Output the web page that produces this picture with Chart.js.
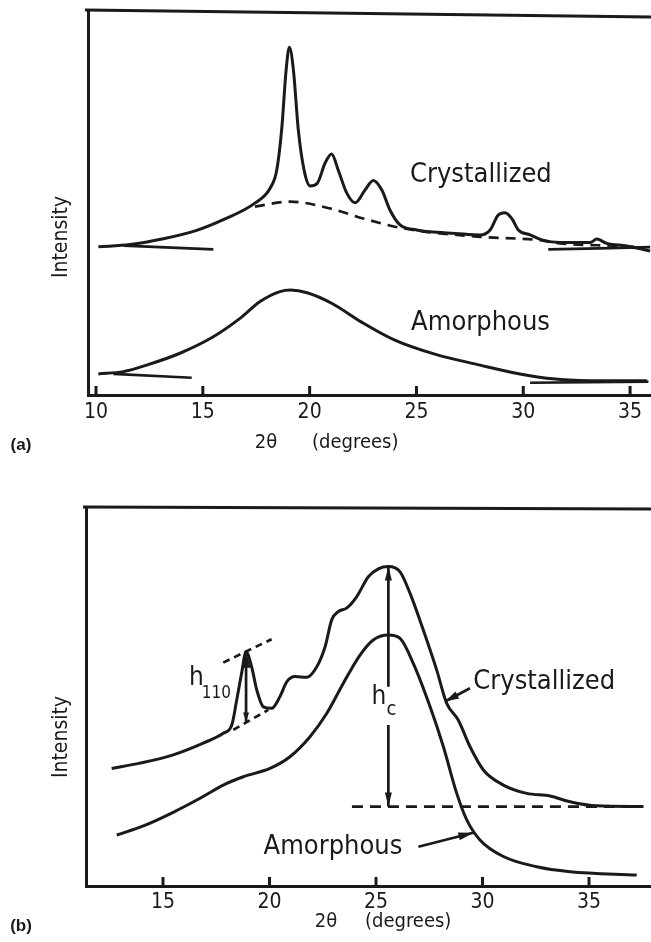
<!DOCTYPE html>
<html>
<head>
<meta charset="utf-8">
<script src="https://cdn.jsdelivr.net/npm/chart.js@4.4.1/dist/chart.umd.min.js"></script>
<style>
  body { margin: 0; background: #fff; }
  .panel { position: absolute; left: 0; width: 651px; height: 471px; }
</style>
</head>
<body>
<div class="panel" style="top:0"><canvas id="chartA" width="651" height="471"></canvas></div>
<div class="panel" style="top:471px"><canvas id="chartB" width="651" height="471"></canvas></div>
<script>
// ---- panel (a) data: 2theta (deg) vs intensity (arbitrary units 0-100)
const ticksA = [10, 15, 20, 25, 30, 35];
const crystA_x = [10.11, 11.59, 13.15, 14.71, 15.96, 17.44, 18.15, 18.46, 18.69, 18.90, 19.05, 19.24, 19.47, 19.74, 20.02, 20.36, 20.72, 21.03, 21.34, 21.74, 22.13, 22.59, 22.98, 23.38, 23.76, 24.23, 25.01, 25.64, 26.81, 27.98, 28.45, 28.83, 29.15, 29.46, 29.77, 30.32, 30.87, 31.72, 33.13, 33.44, 33.91, 34.85, 35.62, 35.94];
const crystA_y = [38.7, 39.3, 40.8, 43.0, 45.8, 50.1, 54.0, 58.7, 69.2, 84.9, 90.8, 84.9, 69.2, 58.7, 54.6, 55.3, 60.5, 62.9, 58.7, 52.7, 50.2, 53.5, 56.0, 53.5, 48.3, 44.4, 43.1, 42.6, 42.2, 41.8, 43.1, 47.0, 47.6, 46.1, 43.1, 41.8, 40.5, 39.8, 39.8, 40.7, 39.6, 38.9, 38.0, 37.6];
const amorA_x = [10.11, 11.28, 12.37, 13.93, 15.49, 16.74, 17.68, 18.61, 19.11, 19.88, 21.05, 22.41, 23.96, 25.90, 27.98, 29.54, 31.10, 32.66, 35.78];
const amorA_y = [5.5, 6.1, 7.8, 10.9, 15.2, 20.0, 24.4, 27.0, 27.4, 26.7, 23.9, 19.1, 14.4, 10.6, 7.8, 5.8, 4.4, 3.8, 3.7];
// amorphous halo under the crystalline peaks (dashed)
const haloA_x = [17.44, 19.08, 20.96, 22.51, 24.39, 27.98, 30.63, 31.72, 34.53, 35.5];
const haloA_y = [49.2, 50.5, 48.7, 46.1, 43.5, 41.3, 40.5, 39.6, 38.9, 38.6];
// hand drawn baseline strokes [x1, y1, x2, y2]
const strokesA = [[11.3, 39.0, 15.49, 38.0], [31.17, 38.0, 35.94, 38.6], [10.81, 5.5, 14.48, 4.5], [30.32, 3.2, 35.86, 3.5]];

// ---- panel (b) data
const ticksB = [15, 20, 25, 30, 35];
const crystB_x = [12.59, 13.92, 15.48, 16.89, 17.83, 18.23, 18.46, 18.69, 18.90, 19.16, 19.40, 19.71, 20.10, 20.49, 20.81, 21.20, 21.75, 22.22, 22.61, 22.92, 23.23, 23.62, 24.09, 24.64, 25.11, 25.58, 26.13, 26.60, 27.22, 27.85, 28.32, 28.86, 29.41, 30.04, 30.98, 32.08, 33.17, 34.11, 35.36, 37.55];
const crystB_y = [31.1, 32.5, 34.7, 37.8, 40.4, 42.6, 49.2, 56.3, 62.0, 58.0, 51.9, 47.4, 47.0, 50.1, 54.0, 55.4, 55.2, 58.0, 63.3, 70.4, 72.6, 73.5, 76.5, 81.8, 83.9, 84.5, 83.1, 77.4, 67.7, 57.1, 48.3, 43.9, 36.9, 30.7, 26.7, 24.5, 23.8, 22.3, 21.2, 21.0];
const amorB_x = [12.83, 14.08, 15.48, 16.74, 17.83, 18.77, 20.02, 20.96, 21.90, 22.69, 23.46, 24.25, 24.87, 25.58, 26.13, 26.75, 27.54, 28.16, 28.79, 29.26, 29.88, 30.98, 32.54, 34.11, 37.24];
const amorB_y = [13.5, 15.9, 19.5, 23.2, 26.7, 28.9, 31.1, 34.2, 39.5, 45.7, 53.6, 61.1, 65.1, 66.4, 65.5, 58.9, 47.4, 36.9, 24.5, 17.5, 12.2, 7.8, 5.1, 3.8, 2.9];
const baseB_x = [23.87, 37.55];
const baseB_y = [21.0, 21.0];
// dashed tangents of the 110 reflection [x1, y1, x2, y2]
const h110LinesB = [[17.83, 59.1, 20.10, 65.3], [18.30, 41.3, 19.94, 46.6]];

const INK = '#1a1a1a';
const FONT = '"DejaVu Sans Condensed", "Liberation Sans Narrow", "DejaVu Sans", sans-serif';

function series(xs, ys, dash, width) {
  return {
    data: xs.map((x, i) => ({ x: x, y: ys[i] })),
    borderColor: INK,
    borderWidth: width || 3,
    borderDash: dash || [],
    pointRadius: 0,
    fill: false,
    cubicInterpolationMode: 'monotone'
  };
}

function segment(s, dash) {
  return series([s[0], s[2]], [s[1], s[3]], dash, 2.7);
}

function arrowHead(ctx, x1, y1, x2, y2, len, half) {
  const a = Math.atan2(y2 - y1, x2 - x1);
  const c = Math.cos(a), s = Math.sin(a);
  ctx.beginPath();
  ctx.moveTo(x2, y2);
  ctx.lineTo(x2 - len * c + half * s, y2 - len * s - half * c);
  ctx.lineTo(x2 - len * c - half * s, y2 - len * s + half * c);
  ctx.closePath();
  ctx.fill();
}

function makeDecor(p) {
  return {
    id: 'decor',
    afterDraw(chart) {
      const ctx = chart.ctx;
      const area = chart.chartArea;
      const xs = chart.scales.x, ys = chart.scales.y;
      const X = v => xs.getPixelForValue(v);
      const Y = v => ys.getPixelForValue(v);
      ctx.save();
      ctx.strokeStyle = INK;
      ctx.fillStyle = INK;
      ctx.lineCap = 'butt';

      // top frame line
      ctx.lineWidth = 3;
      ctx.beginPath();
      ctx.moveTo(area.left - 3, area.top + p.topTilt[0]);
      ctx.lineTo(area.right, area.top + p.topTilt[1]);
      ctx.stroke();

      // inward tick marks
      p.ticks.forEach(v => {
        ctx.beginPath();
        ctx.moveTo(X(v), area.bottom);
        ctx.lineTo(X(v), area.bottom - 9);
        ctx.stroke();
      });

      // axis titles
      ctx.textBaseline = 'middle';
      ctx.font = '20px ' + FONT;
      ctx.textAlign = 'center';
      ctx.fillText('2\u03B8', X(p.title2t), p.titleY);
      ctx.textAlign = 'left';
      ctx.fillText('(degrees)', X(p.titleDeg), p.titleY);

      ctx.save();
      ctx.translate(62, p.intensityY);
      ctx.rotate(-Math.PI / 2);
      ctx.textAlign = 'center';
      ctx.font = '21px ' + FONT;
      ctx.fillText('Intensity', 0, 0);
      ctx.restore();

      ctx.font = 'bold 17px "Liberation Sans", Arial, sans-serif';
      ctx.textAlign = 'center';
      ctx.fillText(p.letter, 21, p.letterY);

      // curve labels
      p.labels.forEach(l => {
        ctx.font = l.size + 'px ' + FONT;
        ctx.textAlign = l.align || 'left';
        ctx.fillText(l.text, X(l.x), Y(l.y));
      });

      // arrows
      ctx.lineWidth = 2.7;
      (p.arrows || []).forEach(a => {
        const x1 = X(a.from[0]), y1 = Y(a.from[1]);
        const x2 = X(a.to[0]), y2 = Y(a.to[1]);
        ctx.beginPath();
        if (a.gap) {
          ctx.moveTo(x1, y1); ctx.lineTo(x1, Y(a.gap[0]));
          ctx.moveTo(x2, Y(a.gap[1])); ctx.lineTo(x2, y2);
        } else {
          ctx.moveTo(x1, y1); ctx.lineTo(x2, y2);
        }
        ctx.stroke();
        arrowHead(ctx, x1, y1, x2, y2, a.head[0], a.head[1]);
        if (a.back) arrowHead(ctx, x2, y2, x1, y1, a.back[0], a.back[1]);
      });
      ctx.restore();
    }
  };
}

function buildChart(id, p) {
  return new Chart(document.getElementById(id), {
    type: 'line',
    data: { datasets: p.datasets },
    options: {
      responsive: false,
      animation: false,
      devicePixelRatio: 1,
      layout: { padding: { top: p.top, left: 0, right: 0, bottom: 0 } },
      plugins: { legend: { display: false }, tooltip: { enabled: false } },
      scales: {
        x: {
          type: 'linear',
          min: p.xMin,
          max: p.xMax,
          afterBuildTicks: s => { s.ticks = p.ticks.map(v => ({ value: v })); },
          afterFit: s => { s.height = 471 - p.bottom; },
          grid: { display: false, drawTicks: false },
          border: { display: true, color: INK, width: 3 },
          ticks: {
            padding: p.tickPad,
            color: INK,
            autoSkip: false,
            maxRotation: 0,
            font: { family: FONT, size: 21 },
            callback: v => String(v)
          }
        },
        y: {
          min: 0,
          max: 100,
          afterFit: s => { s.width = p.left; },
          ticks: { display: false },
          grid: { display: false, drawTicks: false },
          border: { display: true, color: INK, width: 3 }
        }
      }
    },
    plugins: [makeDecor(p)]
  });
}

buildChart('chartA', {
  left: 88, top: 12, bottom: 395, xMin: 9.625, xMax: 35.98, ticks: ticksA, tickPad: 5,
  topTilt: [-2, 5],
  datasets: [
    series(crystA_x, crystA_y),
    series(amorA_x, amorA_y),
    series(haloA_x, haloA_y, [10, 7], 2.7)
  ].concat(strokesA.map(s => segment(s))),
  title2t: 17.96, titleDeg: 20.11, titleY: 443,
  intensityY: 237, letter: '(a)', letterY: 445,
  labels: [
    { text: 'Crystallized', x: 24.70, y: 57.4, size: 27 },
    { text: 'Amorphous', x: 24.75, y: 18.8, size: 27 }
  ]
});

buildChart('chartB', {
  left: 86, top: 37, bottom: 415, xMin: 11.385, xMax: 37.91, ticks: ticksB, tickPad: 4,
  topTilt: [-1, 1],
  datasets: [
    series(crystB_x, crystB_y),
    series(amorB_x, amorB_y),
    series(baseB_x, baseB_y, [11, 7], 2.7)
  ].concat(h110LinesB.map(s => segment(s, [7, 5]))),
  title2t: 22.65, titleDeg: 24.48, titleY: 451,
  intensityY: 266, letter: '(b)', letterY: 455,
  labels: [
    { text: 'Crystallized', x: 29.57, y: 54.0, size: 27 },
    { text: 'Amorphous', x: 19.72, y: 10.4, size: 27 },
    { text: 'h', x: 16.57, y: 55.0, size: 26, align: 'center' },
    { text: '110', x: 17.51, y: 50.9, size: 17, align: 'center' },
    { text: 'h', x: 25.14, y: 50.0, size: 26, align: 'center' },
    { text: 'c', x: 25.72, y: 46.6, size: 20, align: 'center' }
  ],
  arrows: [
    { from: [25.58, 21.0], to: [25.58, 84.5], gap: [42.6, 52.7], head: [14, 3.5], back: [14, 3.5] },
    { from: [18.90, 43.5], to: [18.90, 62.0], head: [16, 4.5], back: [9, 3] },
    { from: [29.41, 52.3], to: [28.24, 48.8], head: [14, 4] },
    { from: [26.99, 10.4], to: [29.57, 14.1], head: [15, 4] }
  ]
});
</script>
</body>
</html>
